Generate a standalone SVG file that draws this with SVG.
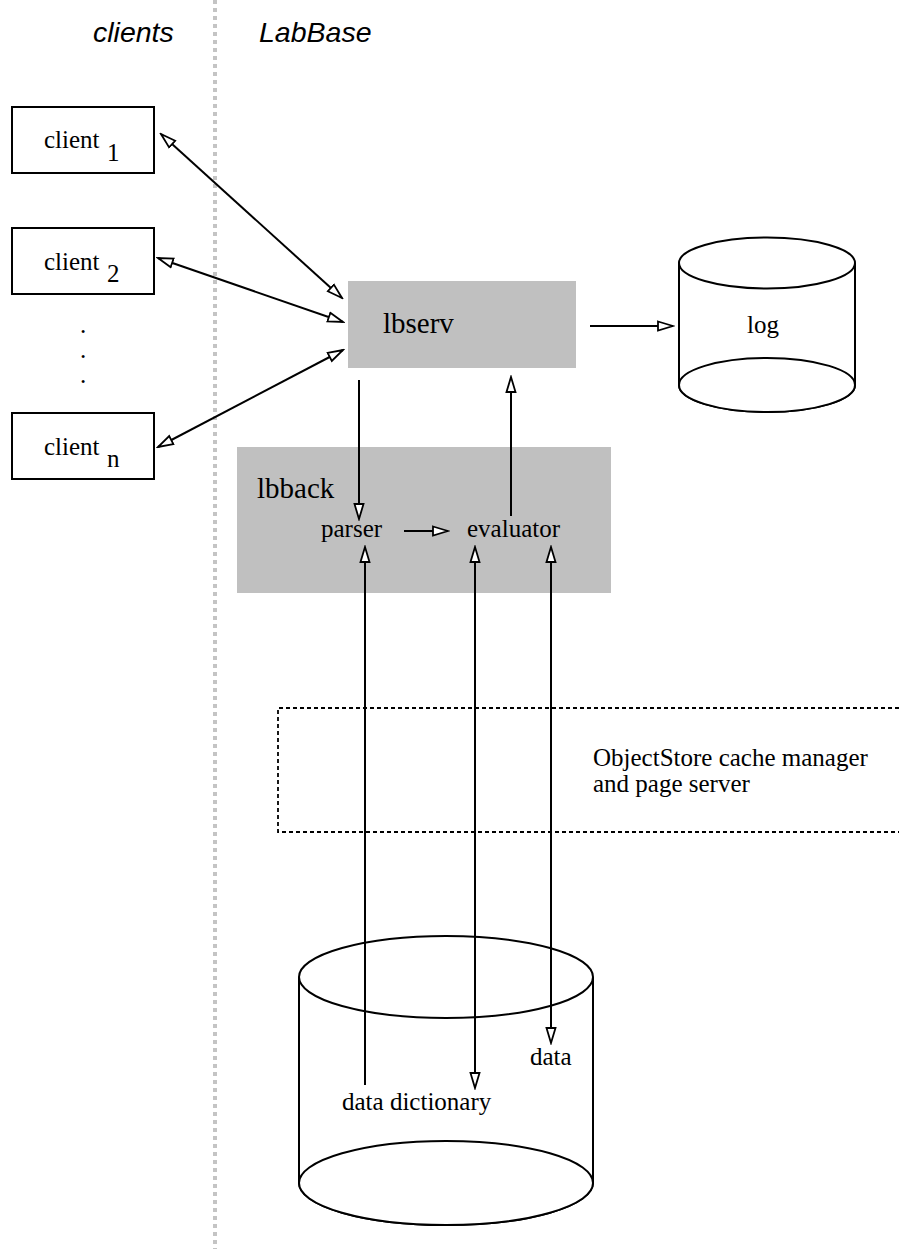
<svg xmlns="http://www.w3.org/2000/svg" width="899" height="1249" viewBox="0 0 899 1249">
<style>
.hdr{font-family:"Liberation Sans",Arial,sans-serif;font-style:italic;font-size:28.5px;fill:#000}
.t{font-family:"Liberation Serif","Times New Roman",serif;font-size:25px;fill:#000}
.big{font-family:"Liberation Serif","Times New Roman",serif;font-size:29px;fill:#000}
.box{fill:#fff;stroke:#000;stroke-width:2}
.gray{fill:#c0c0c0;stroke:none}
.cyl{fill:#fff;stroke:#000;stroke-width:2}
.conn{fill:none;stroke:#000;stroke-width:2}
</style>
<defs>
<marker id="ah" markerUnits="userSpaceOnUse" markerWidth="18" markerHeight="12" refX="16" refY="6" orient="auto-start-reverse" viewBox="0 0 18 12">
<path d="M1,1.5 L16,6 L1,10.5 z" fill="#fff" stroke="#000" stroke-width="1.8"/>
</marker>
</defs>
<rect width="899" height="1249" fill="#fff"/>
<line x1="215" y1="0" x2="215" y2="1249" stroke="#c4c4c4" stroke-width="4" stroke-dasharray="4 4"/>
<g id="hdr-clients"><text class="hdr" x="93" y="42">clients</text></g>
<g id="hdr-labbase"><text class="hdr" x="259" y="42">LabBase</text></g>
<g id="client1"><rect class="box" x="12" y="107" width="142" height="66"/><text class="t" x="44" y="148">client <tspan x="107" y="161">1</tspan></text></g>
<g id="client2"><rect class="box" x="12" y="228" width="142" height="66"/><text class="t" x="44" y="270">client <tspan x="107" y="282">2</tspan></text></g>
<g id="dots"><text class="t" x="80" y="333">.</text><text class="t" x="80" y="358">.</text><text class="t" x="80" y="383">.</text></g>
<g id="clientn"><rect class="box" x="12" y="413" width="142" height="66"/><text class="t" x="44" y="455">client <tspan x="107" y="467">n</tspan></text></g>
<g id="lbserv"><rect class="gray" x="348" y="281" width="228" height="87"/><text class="big" x="383" y="333">lbserv</text></g>
<g id="log"><path class="cyl" d="M679,263 L679,385 A88,27 0 0 0 855,385 L855,263"/><ellipse class="cyl" cx="767" cy="385" rx="88" ry="27"/><ellipse class="cyl" cx="767" cy="263" rx="88" ry="25.5"/><text class="t" x="747" y="333">log</text></g>
<g id="lbback"><rect class="gray" x="237" y="447" width="374" height="146"/><text class="big" x="257" y="498">lbback</text><text class="t" x="321" y="537">parser</text><text class="t" x="467" y="537">evaluator</text></g>
<g id="objectstore"><path d="M899,708 L278,708 L278,832 L899,832" fill="none" stroke="#000" stroke-width="1.8" stroke-dasharray="4 3"/><text class="t" x="593" y="766">ObjectStore cache manager</text><text class="t" x="593" y="792">and page server</text></g>
<g id="database"><path class="cyl" d="M299,977 L299,1183 A147,42 0 0 0 593,1183 L593,977"/><ellipse class="cyl" cx="446" cy="1183" rx="147" ry="42"/><ellipse class="cyl" cx="446" cy="977" rx="147" ry="41"/><text class="t" x="342" y="1110">data dictionary</text><text class="t" x="530" y="1065">data</text></g>
<g id="connectors">
<line class="conn" x1="161" y1="134" x2="342" y2="298" marker-start="url(#ah)" marker-end="url(#ah)"/>
<line class="conn" x1="158" y1="258" x2="343" y2="322" marker-start="url(#ah)" marker-end="url(#ah)"/>
<line class="conn" x1="158" y1="447" x2="343" y2="350" marker-start="url(#ah)" marker-end="url(#ah)"/>
<line class="conn" x1="590" y1="326" x2="673" y2="326" marker-end="url(#ah)"/>
<line class="conn" x1="359" y1="380" x2="359" y2="519" marker-end="url(#ah)"/>
<line class="conn" x1="511" y1="516" x2="511" y2="377" marker-end="url(#ah)"/>
<line class="conn" x1="404" y1="531" x2="448" y2="531" marker-end="url(#ah)"/>
<line class="conn" x1="365" y1="1085" x2="365" y2="547" marker-end="url(#ah)"/>
<line class="conn" x1="475" y1="1088" x2="475" y2="547" marker-start="url(#ah)" marker-end="url(#ah)"/>
<line class="conn" x1="551" y1="1043" x2="551" y2="547" marker-start="url(#ah)" marker-end="url(#ah)"/>
</g>
</svg>
